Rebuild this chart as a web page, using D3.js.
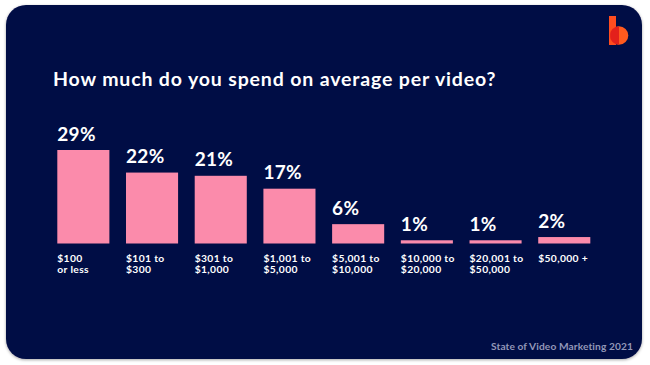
<!DOCTYPE html>
<html><head><meta charset="utf-8">
<script src="https://cdn.jsdelivr.net/npm/d3@7"></script>
<style>html,body{margin:0;padding:0;background:#fff;}svg{display:block;}</style>
</head><body>
<script>
const categories = [["$100","or less"],["$101 to","$300"],["$301 to","$1,000"],["$1,001 to","$5,000"],["$5,001 to","$10,000"],["$10,000 to","$20,000"],["$20,001 to","$50,000"],["$50,000 +"]];
const values = [29, 22, 21, 17, 6, 1, 1, 2];
const valueLabels = ["29%","22%","21%","17%","6%","1%","1%","2%"];
const title = "How much do you spend on average per video?";
const source = "State of Video Marketing 2021";

const W = 650, H = 365;
const svg = d3.select("body").append("svg").attr("width", W).attr("height", H);
const defs = svg.append("defs");
const f = defs.append("filter").attr("id","sh").attr("x","-5%").attr("y","-5%").attr("width","110%").attr("height","110%");
f.append("feDropShadow").attr("dx",0).attr("dy",1).attr("stdDeviation",1.5).attr("flood-color","#000").attr("flood-opacity",0.35);

svg.append("rect").attr("x",6).attr("y",5).attr("width",636).attr("height",354).attr("rx",20)
  .attr("fill","#040b45").attr("filter","url(#sh)");

const font = "Lato, 'Open Sans', sans-serif";
svg.append("text").attr("x",53).attr("y",85.5).text(title)
  .attr("fill","#ffffff").attr("font-family",font).attr("font-weight",700).attr("font-size",19.5)
  .attr("letter-spacing",0.85);

const x = d3.scaleBand().domain(d3.range(values.length)).range([57.3, 590.3]).paddingInner(0.242).paddingOuter(0);
const y = d3.scaleLinear().domain([0, 29]).range([243.5, 150]);

const g = svg.append("g");
g.selectAll("rect.bar").data(values).join("rect").attr("class","bar")
  .attr("x",(d,i)=>x(i)).attr("width",x.bandwidth())
  .attr("y",d=>y(d)).attr("height",d=>y(0)-y(d)).attr("fill","#fb8bab");

g.selectAll("text.val").data(values).join("text").attr("class","val")
  .attr("x",(d,i)=>x(i)).attr("y",d=>y(d)-9.5).text((d,i)=>valueLabels[i])
  .attr("fill","#fff").attr("font-family",font).attr("font-weight",700).attr("font-size",19)
  .attr("letter-spacing",0.3);

const cl = g.selectAll("text.cat").data(categories).join("text").attr("class","cat")
  .attr("x",(d,i)=>x(i)).attr("y",262)
  .attr("fill","#fff").attr("font-family",font).attr("font-weight",700).attr("font-size",10.3)
  .attr("letter-spacing",0.35);
cl.selectAll("tspan").data(d=>d).join("tspan")
  .attr("x",function(){return this.parentNode.getAttribute("x");})
  .attr("dy",(d,i)=>i?11:0).text(d=>d);

svg.append("text").attr("x",633).attr("y",350).attr("text-anchor","end").text(source)
  .attr("fill","#9397b8").attr("font-family",font).attr("font-weight",700).attr("font-size",10.2)
  .attr("letter-spacing",0.1);

// logo
const lg = svg.append("g");
lg.append("rect").attr("x",609).attr("y",16).attr("width",7).attr("height",29).attr("fill","#ff4d1f");
lg.append("circle").attr("cx",619).attr("cy",35.5).attr("r",9.3).attr("fill","#ff5a1e");
lg.append("path").attr("d","M619,26.2 A9.3,9.3 0 0 0 619,44.8 Z").attr("fill","#e3201b");
lg.append("rect").attr("x",609).attr("y",26).attr("width",1.2).attr("height",19).attr("fill","#ff4d1f");
</script>
</body></html>
